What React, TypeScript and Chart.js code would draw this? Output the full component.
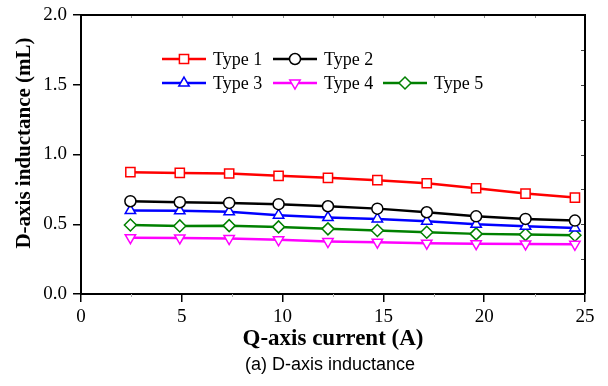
import React, { useEffect, useRef } from "react";
import { Chart, registerables } from "chart.js";
import { drawPoint } from "chart.js/helpers";

Chart.register(...registerables);

// Q-axis current sample points (A)
const currents = [2.45, 4.9, 7.35, 9.8, 12.25, 14.7, 17.15, 19.6, 22.05, 24.5];

// D-axis inductance (mL) for each rotor type
const type1 = [0.873, 0.868, 0.864, 0.847, 0.833, 0.816, 0.794, 0.758, 0.72, 0.691];
const type2 = [0.665, 0.658, 0.653, 0.644, 0.629, 0.612, 0.586, 0.557, 0.538, 0.526];
const type3 = [0.598, 0.596, 0.589, 0.565, 0.548, 0.538, 0.522, 0.5, 0.486, 0.474];
const type4 = [0.404, 0.402, 0.397, 0.388, 0.376, 0.371, 0.364, 0.361, 0.359, 0.356];
const type5 = [0.495, 0.488, 0.49, 0.481, 0.467, 0.455, 0.443, 0.431, 0.426, 0.421];

const seriesNames = ["Type 1", "Type 2", "Type 3", "Type 4", "Type 5"];
const seriesValues = [type1, type2, type3, type4, type5];
const seriesColors = ["#ff0000", "#000000", "#0000ff", "#ff00ff", "#008000"];
const seriesMarkers = ["rect", "circle", "triangle", "triangle", "rectRot"];
const seriesMarkerRotation = [0, 0, 0, 180, 0];
const seriesMarkerRadius = [6.5, 5.5, 6, 6, 6];

const xTicksMajor = [0, 5, 10, 15, 20, 25];
const yTickLabels = ["0.0", "0.5", "1.0", "1.5", "2.0"];

const xTitle = "Q-axis current (A)";
const yTitle = "D-axis inductance (mL)";
const caption = "(a) D-axis inductance";

const SERIF = "'Liberation Serif', 'Times New Roman', serif";
const SANS = "'Liberation Sans', Arial, sans-serif";

// Legend grid: two rows inside the plot, items laid out in columns
const legendRows = [[0, 1], [2, 3, 4]];
const legendColX = [162, 273, 383];
const legendRowY = [59, 83];
const legendLineLen = 44;

const framePlugin = {
  id: "frameAndNotes",
  afterDatasetsDraw(chart: any) {
    const { ctx, chartArea, scales } = chart;
    const { left, right, top, bottom } = chartArea;
    const xs = scales.x;
    const ys = scales.y;
    ctx.save();

    // minor ticks: outward on bottom, inward on top and right
    ctx.lineWidth = 1;
    for (let v = 2.5; v < 25; v += 5) {
      const px = Math.round(xs.getPixelForValue(v)) + 0.5;
      ctx.strokeStyle = "#b0b0b0";
      ctx.beginPath();
      ctx.moveTo(px, bottom);
      ctx.lineTo(px, bottom + 3);
      ctx.stroke();
    }
    for (let v = 2.5; v < 25; v += 2.5) {
      const px = Math.round(xs.getPixelForValue(v)) + 0.5;
      ctx.strokeStyle = "#909090";
      ctx.beginPath();
      ctx.moveTo(px, top);
      ctx.lineTo(px, top + 3);
      ctx.stroke();
    }
    for (let v = 0.25; v < 2; v += 0.25) {
      const py = Math.round(ys.getPixelForValue(v)) + 0.5;
      ctx.strokeStyle = "#404040";
      ctx.beginPath();
      ctx.moveTo(right, py);
      ctx.lineTo(right - 4, py);
      ctx.stroke();
    }

    // top and right frame lines
    ctx.strokeStyle = "#000";
    ctx.lineWidth = 2;
    ctx.beginPath();
    ctx.moveTo(left, top);
    ctx.lineTo(right, top);
    ctx.lineTo(right, bottom);
    ctx.stroke();

    // legend
    ctx.font = `18px ${SERIF}`;
    ctx.textAlign = "left";
    ctx.textBaseline = "middle";
    legendRows.forEach((row, r) => {
      row.forEach((si, c) => {
        const x0 = legendColX[c];
        const y0 = legendRowY[r];
        const color = seriesColors[si];
        ctx.strokeStyle = color;
        ctx.lineWidth = 2.5;
        ctx.beginPath();
        ctx.moveTo(x0, y0);
        ctx.lineTo(x0 + legendLineLen, y0);
        ctx.stroke();
        ctx.fillStyle = "#fff";
        ctx.strokeStyle = color;
        ctx.lineWidth = 1.5;
        drawPoint(
          ctx,
          {
            pointStyle: seriesMarkers[si],
            rotation: seriesMarkerRotation[si],
            radius: seriesMarkerRadius[si],
            borderWidth: 1.5,
          },
          x0 + legendLineLen / 2,
          y0
        );
        ctx.fillStyle = "#000";
        ctx.fillText(seriesNames[si], x0 + legendLineLen + 7, y0 + 1);
      });
    });

    // vertical axis title
    ctx.save();
    ctx.translate(25, 143);
    ctx.rotate(-Math.PI / 2);
    ctx.font = `bold 21px ${SERIF}`;
    ctx.fillStyle = "#000";
    ctx.textAlign = "center";
    ctx.textBaseline = "middle";
    ctx.fillText(yTitle, 0, 0);
    ctx.restore();

    // caption under the chart
    ctx.font = `18px ${SANS}`;
    ctx.fillStyle = "#000";
    ctx.textAlign = "center";
    ctx.textBaseline = "middle";
    ctx.fillText(caption, 330, 365);

    ctx.restore();
  },
};

export default function App() {
  const canvasRef = useRef<HTMLCanvasElement | null>(null);

  useEffect(() => {
    const canvas = canvasRef.current;
    if (!canvas) return;

    const datasets = seriesNames.map((name, i) => ({
      label: name,
      data: currents.map((x, j) => ({ x, y: seriesValues[i][j] })),
      borderColor: seriesColors[i],
      backgroundColor: "#ffffff",
      borderWidth: 2.5,
      pointStyle: seriesMarkers[i],
      pointRotation: seriesMarkerRotation[i],
      pointRadius: seriesMarkerRadius[i],
      pointBorderWidth: 1.5,
      pointBackgroundColor: "#ffffff",
      pointBorderColor: seriesColors[i],
      tension: 0,
      fill: false,
    }));

    const chart = new Chart(canvas, {
      type: "line",
      data: { datasets },
      options: {
        animation: false,
        responsive: false,
        devicePixelRatio: 1,
        layout: { padding: { left: 0, right: 23, top: 15, bottom: 0 } },
        plugins: {
          legend: { display: false },
          tooltip: { enabled: false },
        },
        scales: {
          x: {
            type: "linear",
            min: 0,
            max: 25,
            afterBuildTicks: (s: any) => {
              s.ticks = xTicksMajor.map((v) => ({ value: v }));
            },
            afterFit: (s: any) => {
              s.height = 92;
              s.paddingLeft = 0;
              s.paddingRight = 0;
            },
            ticks: {
              color: "#000",
              font: { family: SERIF, size: 19 },
              padding: 4,
              maxRotation: 0,
              callback: (v: any) => String(v),
            },
            grid: {
              drawOnChartArea: false,
              drawTicks: true,
              tickLength: 8,
              color: "#000",
              lineWidth: 1.5,
            },
            border: { display: true, color: "#000", width: 2 },
            title: {
              display: true,
              text: xTitle,
              color: "#000",
              font: { family: SERIF, size: 23, weight: "bold" },
              padding: { top: 0, bottom: 33 },
            },
          },
          y: {
            type: "linear",
            min: 0,
            max: 2,
            afterBuildTicks: (s: any) => {
              s.ticks = yTickLabels.map((t) => ({ value: parseFloat(t) }));
            },
            afterFit: (s: any) => {
              s.width = 81;
              s.paddingTop = 0;
              s.paddingBottom = 0;
            },
            ticks: {
              color: "#000",
              font: { family: SERIF, size: 19 },
              padding: 6,
              callback: (v: any) => Number(v).toFixed(1),
            },
            grid: {
              drawOnChartArea: false,
              drawTicks: true,
              tickLength: 8,
              color: "#000",
              lineWidth: 1.5,
            },
            border: { display: true, color: "#000", width: 2 },
          },
        },
      },
      plugins: [framePlugin],
    });

    return () => chart.destroy();
  }, []);

  return (
    <div
      style={{
        position: "absolute",
        left: 0,
        top: 0,
        width: 608,
        height: 386,
        background: "#fff",
      }}
    >
      <canvas ref={canvasRef} width={608} height={386} />
    </div>
  );
}
